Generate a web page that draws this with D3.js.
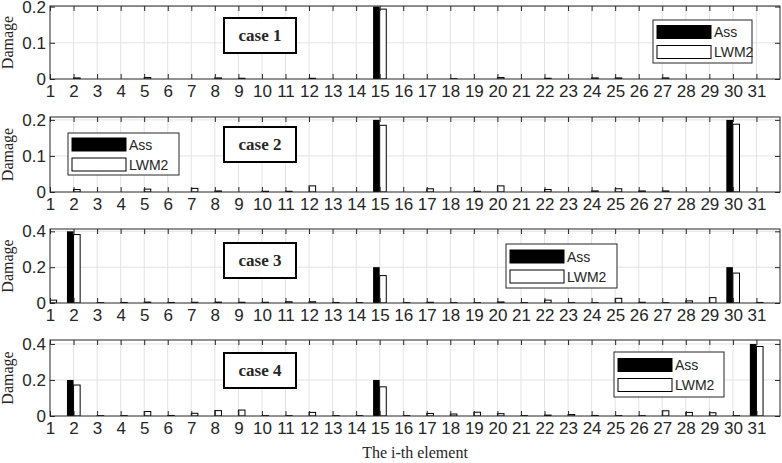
<!DOCTYPE html>
<html>
<head>
<meta charset="utf-8">
<script src="https://cdn.jsdelivr.net/npm/d3@7"></script>
<style>
	body { margin: 0; background: #fff; }
	text { fill: #262626; }
</style>
</head>
<body>
<svg id="chart" width="782" height="463"></svg>
<script>
// element numbers (x categories)
var elements = [1, 2, 3, 4, 5, 6, 7, 8, 9, 10, 11, 12, 13, 14, 15, 16, 17, 18, 19, 20, 21, 22, 23, 24, 25, 26, 27, 28, 29, 30, 31];
var seriesNames = ["Ass", "LWM2"];
var caseLabels = ["case 1", "case 2", "case 3", "case 4"];

// assumed damage (Ass)
var ass1 = [0, 0, 0, 0, 0, 0, 0, 0, 0, 0, 0, 0, 0, 0, 0.2, 0, 0, 0, 0, 0, 0, 0, 0, 0, 0, 0, 0, 0, 0, 0, 0];
var ass2 = [0, 0, 0, 0, 0, 0, 0, 0, 0, 0, 0, 0, 0, 0, 0.2, 0, 0, 0, 0, 0, 0, 0, 0, 0, 0, 0, 0, 0, 0, 0.2, 0];
var ass3 = [0, 0.4, 0, 0, 0, 0, 0, 0, 0, 0, 0, 0, 0, 0, 0.2, 0, 0, 0, 0, 0, 0, 0, 0, 0, 0, 0, 0, 0, 0, 0.2, 0];
var ass4 = [0, 0.2, 0, 0, 0, 0, 0, 0, 0, 0, 0, 0, 0, 0, 0.2, 0, 0, 0, 0, 0, 0, 0, 0, 0, 0, 0, 0, 0, 0, 0, 0.4];

// identified damage (LWM2)
var lwm1 = [0, 0.003, 0, 0, 0.004, 0, 0, 0.003, 0.002, 0, 0, 0.002, 0, 0, 0.193, 0, 0, 0.001, 0, 0.004, 0, 0.002, 0, 0.003, 0.003, 0, 0.003, 0, 0, 0, 0];
var lwm2 = [0, 0.007, 0, 0, 0.008, 0, 0.01, 0.003, 0, 0.002, 0.002, 0.017, 0, 0, 0.185, 0, 0.009, 0, 0.002, 0.017, 0, 0.007, 0, 0.003, 0.009, 0.003, 0.003, 0, 0, 0.188, 0];
var lwm3 = [0.016, 0.382, 0.002, 0.003, 0.005, 0.003, 0.004, 0.005, 0.004, 0.004, 0.007, 0.007, 0.003, 0.002, 0.153, 0.002, 0.004, 0.002, 0.002, 0.006, 0.002, 0.016, 0.002, 0.002, 0.026, 0.004, 0.002, 0.012, 0.03, 0.167, 0.003];
var lwm4 = [0, 0.172, 0.002, 0.002, 0.025, 0.003, 0.015, 0.03, 0.033, 0.002, 0.002, 0.02, 0.002, 0.002, 0.162, 0.002, 0.014, 0.011, 0.021, 0.013, 0.002, 0.005, 0.008, 0.003, 0.002, 0.002, 0.029, 0.02, 0.018, 0.002, 0.386];

var assValues = [ass1, ass2, ass3, ass4];
var lwmValues = [lwm1, lwm2, lwm3, lwm4];

// y ticks and limits per panel
var yTicksSmall = [0, 0.1, 0.2];
var yTicksLarge = [0, 0.2, 0.4];
var yTicks = [yTicksSmall, yTicksSmall, yTicksLarge, yTicksLarge];
var yMax = [0.2016, 0.208, 0.413, 0.422];
var xDomain = [1, 32];

/* layout */
var left = 50, right = 780;
var panelTop = [6, 117, 229, 340],
	panelBottom = [79, 192, 303, 416];
var caseBoxY = [18, 127, 243, 353];
var legendPos = [[653, 20, 99, 43], [68, 133, 111, 42], [506, 244, 111, 44], [614, 352, 110, 45]];
var barW = 0.28;
var sans = "'Liberation Sans', Arial, Helvetica, sans-serif",
	serif = "'Liberation Serif', 'Times New Roman', serif";

var svg = d3.select("#chart");
var x = d3.scaleLinear().domain(xDomain).range([left, right]);

caseLabels.forEach(function(label, p) {
	var top = panelTop[p], bottom = panelBottom[p];
	var y = d3.scaleLinear().domain([0, yMax[p]]).range([bottom, top]);
	var g = svg.append("g").attr("class", "panel");

	g.append("clipPath").attr("id", "clip" + p)
		.append("rect").attr("x", left).attr("y", top)
		.attr("width", right - left).attr("height", bottom - top);

	// grid
	g.append("g").selectAll("line").data(elements.slice(1)).enter().append("line")
		.attr("x1", d => x(d)).attr("x2", d => x(d))
		.attr("y1", top).attr("y2", bottom)
		.attr("stroke", "#e3e3e3").attr("stroke-width", 1);
	g.append("g").selectAll("line").data(yTicks[p].slice(1)).enter().append("line")
		.attr("x1", left).attr("x2", right)
		.attr("y1", d => y(d)).attr("y2", d => y(d))
		.attr("stroke", "#e3e3e3").attr("stroke-width", 1);

	// bars
	var bars = g.append("g").attr("clip-path", "url(#clip" + p + ")");
	bars.selectAll("rect.ass").data(assValues[p]).enter().append("rect")
		.attr("class", "ass")
		.attr("x", (d, i) => x(elements[i] - barW))
		.attr("width", x(xDomain[0] + barW) - x(xDomain[0]))
		.attr("y", d => y(d))
		.attr("height", d => y(0) - y(d))
		.attr("fill", "#000");
	bars.selectAll("rect.lwm").data(lwmValues[p]).enter().append("rect")
		.attr("class", "lwm")
		.attr("x", (d, i) => x(elements[i]))
		.attr("width", x(xDomain[0] + barW) - x(xDomain[0]))
		.attr("y", d => y(d))
		.attr("height", d => y(0) - y(d))
		.attr("fill", "#fff")
		.attr("stroke", "#000").attr("stroke-width", 1);

	// axes
	var fmt = d => d === 0 ? "0" : d3.format(".1f")(d);
	g.append("g").attr("transform", "translate(0," + bottom + ")")
		.call(d3.axisBottom(x).tickValues(elements).tickSize(-5).tickPadding(6).tickFormat(d3.format("d")));
	g.append("g").attr("transform", "translate(0," + top + ")")
		.call(d3.axisTop(x).tickValues(elements).tickSize(-5).tickFormat(""));
	g.append("g").attr("transform", "translate(" + left + ",0)")
		.call(d3.axisLeft(y).tickValues(yTicks[p]).tickSize(-5).tickPadding(4).tickFormat(fmt));
	g.append("g").attr("transform", "translate(" + right + ",0)")
		.call(d3.axisRight(y).tickValues(yTicks[p]).tickSize(-5).tickFormat(""));
	g.selectAll(".domain").remove();
	g.selectAll(".tick line").attr("stroke", "#262626");
	g.selectAll(".tick text").attr("font-family", sans).attr("font-size", 17).attr("fill", "#262626");

	g.append("rect").attr("x", left).attr("y", top)
		.attr("width", right - left).attr("height", bottom - top)
		.attr("fill", "none").attr("stroke", "#262626").attr("stroke-width", 1);

	// y label
	g.append("text")
		.attr("transform", "translate(13," + ((top + bottom) / 2) + ") rotate(-90)")
		.attr("text-anchor", "middle")
		.attr("font-family", serif).attr("font-size", 16)
		.text("Damage");

	// case box
	g.append("rect").attr("x", 224).attr("y", caseBoxY[p])
		.attr("width", 72).attr("height", 35)
		.attr("fill", "#fff").attr("stroke", "#000").attr("stroke-width", 2);
	g.append("text").attr("x", 260).attr("y", caseBoxY[p] + 23)
		.attr("text-anchor", "middle")
		.attr("font-family", serif).attr("font-weight", "bold").attr("font-size", 17)
		.attr("fill", "#000")
		.text(label);

	// legend
	var lp = legendPos[p];
	var lg = g.append("g").attr("transform", "translate(" + lp[0] + "," + lp[1] + ")");
	lg.append("rect").attr("width", lp[2]).attr("height", lp[3])
		.attr("fill", "#fff").attr("stroke", "#262626").attr("stroke-width", 1);
	seriesNames.forEach(function(name, k) {
		var sy = lp[3] / 2 - 16 + k * 20;
		lg.append("rect").attr("x", 4).attr("y", sy)
			.attr("width", 54).attr("height", 13)
			.attr("fill", k === 0 ? "#000" : "#fff")
			.attr("stroke", "#000").attr("stroke-width", 1);
		lg.append("text").attr("x", 61).attr("y", sy + 11.5)
			.attr("font-family", sans).attr("font-size", 14)
			.text(name);
	});
});

svg.append("text")
	.attr("x", (left + right) / 2).attr("y", 458)
	.attr("text-anchor", "middle")
	.attr("font-family", serif).attr("font-size", 16)
	.text("The i-th element");
</script>
</body>
</html>
